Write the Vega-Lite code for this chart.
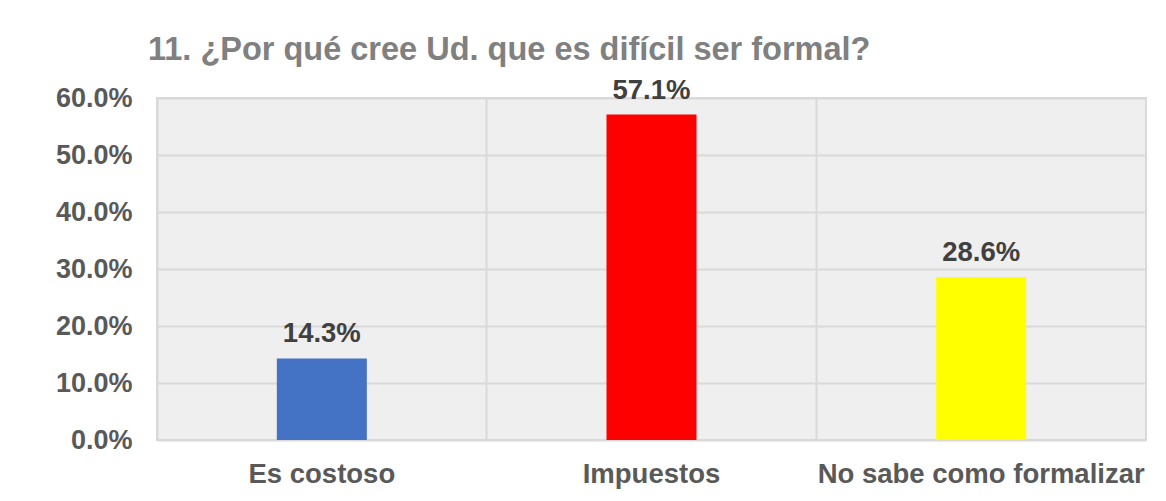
{
  "$schema": "https://vega.github.io/schema/vega-lite/v6.json",
  "autosize": {"type": "none"},
  "width": 989,
  "height": 342,
  "padding": {"left": 157, "top": 98, "right": 20, "bottom": 61},
  "background": "white",
  "title": {
    "text": "11. ¿Por qué cree Ud. que es difícil ser formal?",
    "anchor": "start",
    "frame": "group",
    "dx": -9,
    "offset": 10,
    "font": "Liberation Sans",
    "fontSize": 32.5,
    "fontWeight": "bold",
    "color": "#808080"
  },
  "data": {
    "values": [
      {"categoria": "Es costoso", "porcentaje": 0.143, "color": "#4472C4"},
      {"categoria": "Impuestos", "porcentaje": 0.571, "color": "#FF0000"},
      {"categoria": "No sabe como formalizar", "porcentaje": 0.286, "color": "#FFFF00"}
    ]
  },
  "encoding": {
    "x": {
      "field": "categoria",
      "type": "nominal",
      "sort": null,
      "scale": {"paddingInner": 0, "paddingOuter": 0},
      "axis": {
        "title": null,
        "labelAngle": 0,
        "labelLimit": 0,
        "labelFont": "Liberation Sans",
        "labelFontSize": 27.5,
        "labelFontWeight": "bold",
        "labelColor": "#595959",
        "labelPadding": 20,
        "ticks": false,
        "domain": false,
        "grid": true,
        "bandPosition": 0,
        "gridColor": "#d9d9d9",
        "gridWidth": 2
      }
    },
    "y": {
      "field": "porcentaje",
      "type": "quantitative",
      "scale": {"domain": [0, 0.6], "nice": false},
      "axis": {
        "title": null,
        "format": ".1%",
        "values": [0, 0.1, 0.2, 0.3, 0.4, 0.5, 0.6],
        "labelFont": "Liberation Sans",
        "labelFontSize": 27,
        "labelFontWeight": "bold",
        "labelColor": "#595959",
        "labelPadding": 25,
        "ticks": false,
        "domain": false,
        "gridColor": "#d9d9d9",
        "gridWidth": 2
      }
    }
  },
  "layer": [
    {
      "mark": {"type": "bar", "width": {"band": 0.273}},
      "encoding": {
        "color": {"field": "color", "type": "nominal", "scale": null, "legend": null}
      }
    },
    {
      "mark": {
        "type": "text",
        "baseline": "alphabetic",
        "dy": -16,
        "font": "Liberation Sans",
        "fontSize": 27.5,
        "fontWeight": "bold",
        "color": "#404040"
      },
      "encoding": {
        "text": {"field": "porcentaje", "type": "quantitative", "format": ".1%"}
      }
    }
  ],
  "config": {
    "view": {"fill": "#efefef", "stroke": "#d9d9d9", "strokeWidth": 2}
  }
}
